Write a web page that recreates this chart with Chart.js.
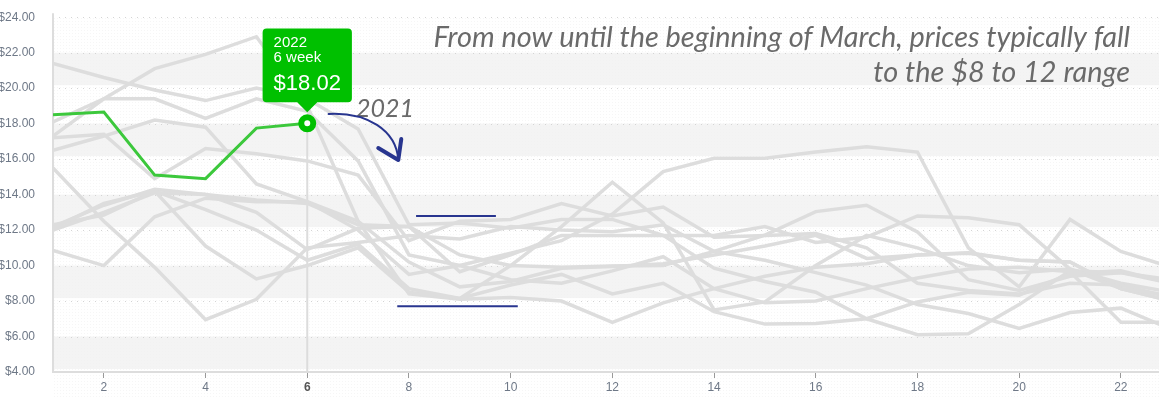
<!DOCTYPE html>
<html>
<head>
<meta charset="utf-8">
<script src="https://cdn.jsdelivr.net/npm/chart.js@4.4.1/dist/chart.umd.min.js"></script>
<style>
  html, body { margin: 0; padding: 0; background: #fff; }
  #wrap { width: 1159px; height: 398px; }
</style>
</head>
<body>
<div id="wrap"><canvas id="price-chart"></canvas></div>
<script>
// Week numbers (x axis)
const weeks = [1,2,3,4,5,6,7,8,9,10,11,12,13,14,15,16,17,18,19,20,21,22,23];

// Past seasons, price per week
const y2011 = [21.4,20.6,19.9,19.3,20.0,19.4,17.7,12.3,12.4,12.1,12.6,12.6,11.7,11.7,12.2,11.3,11.6,12.8,12.7,12.3,9.8,8.7,8.3];
const y2012 = [17.3,19.4,19.4,18.3,19.4,18.7,15.9,10.6,10.0,9.2,9.0,9.7,10.5,8.7,7.9,8.0,8.7,9.3,9.8,9.9,9.65,6.8,6.8];
const y2013 = [16.5,17.3,18.2,17.8,14.6,13.6,12.5,10.2,8.8,9.1,9.85,9.95,10.1,10.6,11.1,11.7,10.4,10.6,10.72,10.3,10.2,8.7,8.0];
const y2014 = [17.2,17.4,14.9,16.6,16.3,15.9,15.1,11.4,12.5,12.6,13.5,12.8,13.3,11.6,11.7,11.8,11.0,9.0,8.6,8.4,9.0,8.9,8.2];
const y2015 = [15.5,12.5,9.9,6.95,8.1,11.0,11.3,11.7,11.5,12.2,12.0,11.9,12.3,10.8,10.3,9.6,8.9,7.8,7.3,6.45,7.35,7.6,6.4];
const y2016 = [10.85,10.0,12.75,13.8,13.6,13.6,12.0,9.5,10.0,10.7,11.4,12.9,15.3,16.05,16.05,16.4,16.7,16.4,11.0,8.8,12.6,10.8,9.9];
const y2017 = [12.1,13.5,14.2,13.15,12.0,10.3,11.2,8.7,8.14,8.9,9.5,8.4,9.0,7.4,6.7,6.73,7.0,7.95,8.5,8.33,9.55,9.7,9.0];
const y2018 = [12.3,12.85,14.2,11.1,9.25,10.0,11.0,8.5,8.14,10.0,9.9,9.97,10.0,10.8,11.72,13.04,13.4,11.9,9.2,8.6,9.4,9.6,9.0];
const y2019 = [12.0,13.0,14.1,14.0,13.0,10.9,12.1,12.2,10.6,10.0,12.2,14.7,12.4,7.5,7.95,10.0,11.7,11.0,10.0,9.6,9.8,9.0,8.5];
const y2020 = [12.2,13.4,14.3,14.0,13.7,13.5,12.3,12.2,9.65,10.6,11.7,11.7,11.7,9.85,9.1,8.5,7.0,6.1,6.16,7.8,9.7,9.6,9.2];
const y2021 = [18.1,19.4,21.1,21.9,22.9,19.0,12.5,8.4,8.1,8.2,8.0,6.8,7.9,8.7,9.4,9.9,10.1,10.6,10.7,10.3,10.2,8.7,8.0];

// Current season so far
const y2022 = [18.5,18.65,15.1,14.9,17.75,18.02];

// Marked price range (week, price)
const rangeHigh = [[8.14, 12.8], [9.71, 12.8]];
const rangeLow = [[7.77, 7.7], [10.14, 7.7]];

const yTicks = [4,6,8,10,12,14,16,18,20,22,24];
const activeWeek = 6;

const pastYears = [
  ['2011', y2011], ['2012', y2012], ['2013', y2013], ['2014', y2014],
  ['2015', y2015], ['2016', y2016], ['2017', y2017], ['2018', y2018],
  ['2019', y2019], ['2020', y2020], ['2021', y2021]
];

const toPoints = (arr) => arr.map((v, i) => ({ x: weeks[i], y: v }));
const pairPoints = (arr) => arr.map(p => ({ x: p[0], y: p[1] }));

const GREY = '#dddddd';
const GREEN = '#3cc83c';
const TIP_GREEN = '#00c000';
const NAVY = '#28358f';
const HAND = "'Lato', 'Open Sans', sans-serif";

Chart.defaults.font.family = "'Liberation Sans', Arial, sans-serif";
Chart.defaults.font.size = 12;

const datasets = pastYears.map(([label, data]) => ({
  label: label,
  data: toPoints(data),
  borderColor: GREY,
  borderWidth: 3.5,
  pointRadius: 0,
  pointHoverRadius: 0,
  tension: 0,
  order: 3
}));

datasets.push({
  label: '2022',
  data: toPoints(y2022),
  borderColor: GREEN,
  borderWidth: 3,
  pointRadius: ctx => ctx.dataIndex === activeWeek - 1 ? 6 : 0,
  pointHoverRadius: ctx => ctx.dataIndex === activeWeek - 1 ? 6 : 0,
  pointBorderWidth: 6,
  pointHoverBorderWidth: 6,
  pointBackgroundColor: '#fff',
  pointHoverBackgroundColor: '#fff',
  pointBorderColor: TIP_GREEN,
  pointHoverBorderColor: TIP_GREEN,
  order: 1
});
const greenIdx = datasets.length - 1;

datasets.push({
  label: 'high',
  data: pairPoints(rangeHigh),
  borderColor: NAVY,
  borderWidth: 2,
  pointRadius: 0,
  order: 0
});
datasets.push({
  label: 'low',
  data: pairPoints(rangeLow),
  borderColor: NAVY,
  borderWidth: 2,
  pointRadius: 0,
  order: 0
});

// stipple texture
function makePattern(ctx) {
  const c = document.createElement('canvas');
  c.width = 3; c.height = 3;
  const p = c.getContext('2d');
  p.fillStyle = 'rgba(0,0,0,0.035)';
  p.fillRect(0, 0, 1, 1);
  return ctx.createPattern(c, 'repeat');
}

const backdrop = {
  id: 'backdrop',
  beforeDraw(chart) {
    const { ctx, chartArea: a, scales: { y } } = chart;
    ctx.save();
    ctx.fillStyle = '#fff';
    ctx.fillRect(0, 0, chart.width, chart.height);
    ctx.fillStyle = makePattern(ctx);
    ctx.fillRect(a.left, a.top, a.right - a.left, chart.height - a.top);
    // bands
    ctx.fillStyle = 'rgba(240,240,240,0.75)';
    for (let v = 22; v >= 6; v -= 4) {
      const t = y.getPixelForValue(v);
      const b = y.getPixelForValue(v - 2) - 3;
      ctx.fillRect(a.left, t, a.right - a.left, b - t);
    }
    // dotted grid
    ctx.strokeStyle = '#d4d4d4';
    ctx.lineWidth = 1;
    ctx.setLineDash([1, 5]);
    yTicks.forEach(v => {
      const py = Math.round(y.getPixelForValue(v)) + 0.5;
      ctx.beginPath();
      ctx.moveTo(a.left, py);
      ctx.lineTo(a.right, py);
      ctx.stroke();
    });
    ctx.setLineDash([]);
    // left axis line
    ctx.strokeStyle = '#dddddd';
    ctx.lineWidth = 2;
    ctx.beginPath();
    ctx.moveTo(a.left, a.top - 4);
    ctx.lineTo(a.left, a.bottom);
    ctx.stroke();
    ctx.restore();
  },
  beforeDatasetsDraw(chart) {
    const { ctx, chartArea: a, scales: { x, y } } = chart;
    const px = x.getPixelForValue(activeWeek);
    const py = y.getPixelForValue(y2022[activeWeek - 1]);
    ctx.save();
    ctx.strokeStyle = '#dcdcdc';
    ctx.lineWidth = 2;
    ctx.beginPath();
    ctx.moveTo(px, py);
    ctx.lineTo(px, a.bottom);
    ctx.stroke();
    ctx.restore();
  }
};

const notes = {
  id: 'notes',
  afterDatasetsDraw(chart) {
    const { ctx, scales: { x, y } } = chart;
    ctx.save();
    ctx.fillStyle = '#6a6a6a';
    ctx.textBaseline = 'alphabetic';

    // headline, right aligned, fitted to width
    const line1 = 'From now until the beginning of March, prices typically fall';
    const line2 = 'to the $8 to 12 range';
    const right = x.getPixelForValue(22.18);
    const left = x.getPixelForValue(8.47);
    ctx.font = 'italic 400 28px ' + HAND;
    const w1 = ctx.measureText(line1).width;
    const size = 28 * (right - left) / w1;
    ctx.font = 'italic 400 ' + size.toFixed(1) + 'px ' + HAND;
    ctx.textAlign = 'right';
    ctx.fillText(line1, right, y.getPixelForValue(22.3));
    ctx.fillText(line2, right, y.getPixelForValue(20.35));

    // year label
    ctx.textAlign = 'left';
    ctx.font = 'italic 400 25px ' + HAND;
    ctx.fillText('2021', x.getPixelForValue(6.96), y.getPixelForValue(18.4));

    // curved arrow
    const sx = x.getPixelForValue(6.42), sy = y.getPixelForValue(18.55);
    const ex = x.getPixelForValue(7.79), ey = y.getPixelForValue(15.95);
    ctx.strokeStyle = NAVY;
    ctx.lineCap = 'round';
    ctx.lineJoin = 'round';
    ctx.beginPath();
    ctx.moveTo(sx, sy);
    ctx.lineWidth = 2;
    ctx.bezierCurveTo(sx + 38, sy - 2, ex - 2, ey - 30, ex, ey);
    ctx.stroke();
    ctx.lineWidth = 4;
    ctx.beginPath();
    ctx.moveTo(ex - 20, ey - 12);
    ctx.lineTo(ex, ey);
    ctx.lineTo(ex + 3, ey - 21);
    ctx.stroke();
    ctx.restore();
  }
};

const chart = new Chart(document.getElementById('price-chart'), {
  type: 'line',
  data: { datasets: datasets },
  options: {
    responsive: true,
    maintainAspectRatio: false,
    animation: false,
    events: [],
    layout: { autoPadding: false, padding: { top: 16, right: 0, left: 0, bottom: 0 } },
    plugins: {
      legend: { display: false },
      tooltip: {
        enabled: true,
        filter: item => item.datasetIndex === greenIdx,
        backgroundColor: TIP_GREEN,
        titleColor: '#fff',
        bodyColor: '#fff',
        titleFont: { size: 15, weight: 'normal', lineHeight: 1.05 },
        bodyFont: { size: 22, lineHeight: 1.1 },
        titleSpacing: 0,
        titleMarginBottom: 6,
        padding: { top: 6, bottom: 6, left: 11, right: 11 },
        cornerRadius: 4,
        caretSize: 10,
        caretPadding: 11,
        displayColors: false,
        yAlign: 'bottom',
        xAlign: 'center',
        callbacks: {
          title: items => [items[0].dataset.label, items[0].parsed.x + ' week'],
          label: item => '$' + item.parsed.y.toFixed(2)
        }
      }
    },
    scales: {
      x: {
        type: 'linear',
        min: 1,
        max: 22.75,
        afterBuildTicks: axis => {
          axis.ticks = weeks.filter(w => w % 2 === 0 && w <= 22).map(w => ({ value: w }));
        },
        afterFit: axis => {
          axis.height = 26;
          axis.paddingRight = 0;
          axis.paddingLeft = 0;
        },
        grid: {
          display: true,
          drawOnChartArea: false,
          drawTicks: true,
          tickLength: 6,
          tickColor: '#999',
          tickWidth: 1
        },
        border: { display: true, color: '#dddddd', width: 2 },
        ticks: {
          padding: 2,
          color: ctx => ctx.tick && ctx.tick.value === activeWeek ? '#555' : '#6e7887',
          font: ctx => ({ size: 12, weight: ctx.tick && ctx.tick.value === activeWeek ? 'bold' : 'normal' })
        }
      },
      y: {
        min: 4,
        max: 24,
        afterBuildTicks: axis => { axis.ticks = yTicks.map(v => ({ value: v })); },
        afterFit: axis => { axis.width = 53; },
        grid: { display: false },
        border: { display: false },
        ticks: {
          padding: 10,
          color: '#6e7887',
          callback: v => '$' + Number(v).toFixed(2)
        }
      }
    }
  },
  plugins: [backdrop, notes]
});

const pt = chart.getDatasetMeta(greenIdx).data[activeWeek - 1];
chart.tooltip.setActiveElements([{ datasetIndex: greenIdx, index: activeWeek - 1 }], { x: pt.x, y: pt.y });
chart.update();
</script>
</body>
</html>
